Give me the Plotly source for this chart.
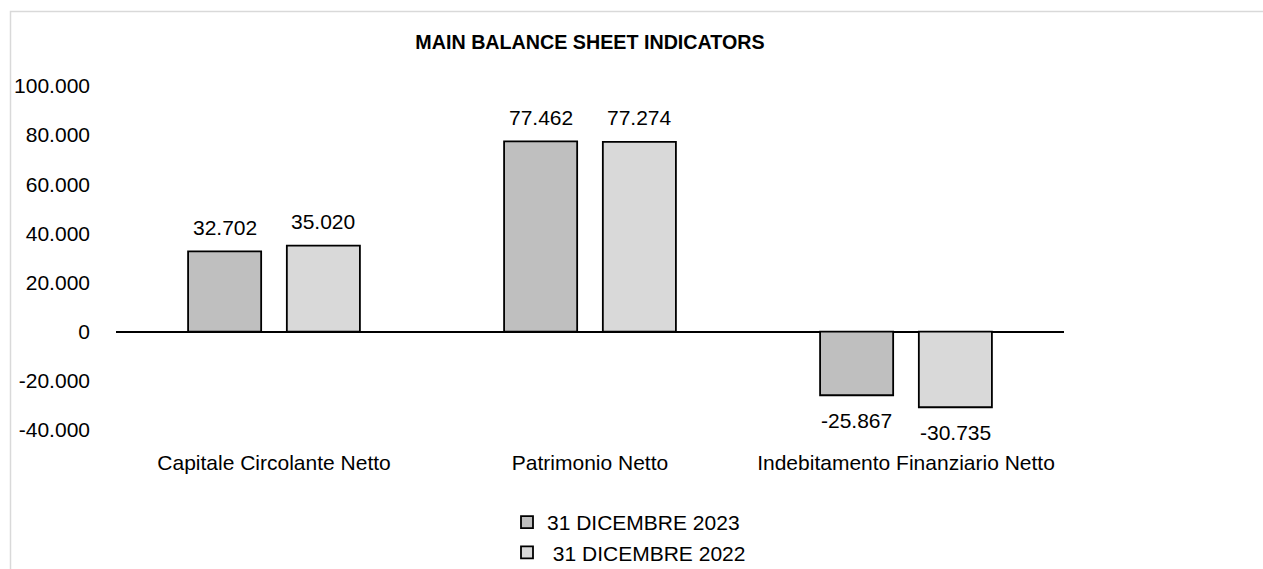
import plotly.graph_objects as go

# Indicator categories and values (thousands of euro)
categories = ["Capitale Circolante Netto", "Patrimonio Netto", "Indebitamento Finanziario Netto"]
series_names = ["31 DICEMBRE 2023", "\u00a031 DICEMBRE 2022"]
values_2023 = [32702, 77462, -25867]
values_2022 = [35020, 77274, -30735]

y_tickvals = [-40000, -20000, 0, 20000, 40000, 60000, 80000, 100000]
y_ticktext = ["-40.000", "-20.000", "0", "20.000", "40.000", "60.000", "80.000", "100.000"]

FONT = "Liberation Sans, Arial, sans-serif"
W, H = 1263, 569
M_L, M_R, M_T, M_B = 116, 199, 86, 139
BARGAP = 0.375
BARGROUPGAP = 0.26

colors = ["#bfbfbf", "#d9d9d9"]
series = [values_2023, values_2022]


def fmt(v):
    s = f"{abs(v):,}".replace(",", ".")
    return ("-" if v < 0 else "") + s


fig = go.Figure()
for name, vals, col in zip(series_names, series, colors):
    fig.add_trace(go.Bar(
        x=categories, y=vals, name=name,
        marker=dict(color=col, line=dict(color="#000000", width=1.8)),
        hoverinfo="x+y",
    ))

# Value labels, centred over each bar of the group
slot = (1 - BARGAP) / len(series)
for k, vals in enumerate(series):
    dx = (k - (len(series) - 1) / 2) * slot
    for i, v in enumerate(vals):
        fig.add_annotation(
            x=i + dx, y=v, xref="x", yref="y",
            text=fmt(v), showarrow=False,
            yanchor="middle", yshift=24 if v >= 0 else -25,
            font=dict(family=FONT, size=21, color="#000000"),
        )

plot_w = W - M_L - M_R
plot_h = H - M_T - M_B
# Light frame around the chart area
fig.add_shape(
    type="rect", xref="paper", yref="paper",
    x0=(10.5 - M_L) / plot_w, x1=1.5,
    y0=-1.0, y1=(H - M_B - 11.5) / plot_h,
    line=dict(color="#d9d9d9", width=1.5), fillcolor="rgba(0,0,0,0)",
    layer="below",
)

fig.update_layout(
    width=W, height=H,
    margin=dict(l=M_L, r=M_R, t=M_T, b=M_B, pad=0, autoexpand=False),
    paper_bgcolor="#ffffff", plot_bgcolor="#ffffff",
    barmode="group", bargap=BARGAP, bargroupgap=BARGROUPGAP,
    font=dict(family=FONT, size=21, color="#000000"),
    title=dict(
        text="<b>MAIN BALANCE SHEET INDICATORS</b>",
        font=dict(family=FONT, size=19.7, color="#000000"),
        x=0.5, xref="paper", xanchor="center",
        y=1 - 42 / H, yref="container", yanchor="middle",
    ),
    showlegend=True,
    legend=dict(
        orientation="v",
        x=507 / W, xref="container", xanchor="left",
        y=1 - 502 / H, yref="container", yanchor="top",
        font=dict(family=FONT, size=21, color="#000000"),
        bgcolor="rgba(0,0,0,0)", traceorder="normal",
        itemwidth=30,
    ),
    xaxis=dict(
        type="category", showgrid=False, showline=False, zeroline=False,
        ticks="", ticklabelstandoff=18,
        tickfont=dict(family=FONT, size=21, color="#000000"),
    ),
    yaxis=dict(
        range=[-40000, 100000], showgrid=False, showline=False,
        zeroline=True, zerolinecolor="#000000", zerolinewidth=1.5,
        tickmode="array", tickvals=y_tickvals, ticktext=y_ticktext,
        ticks="", ticklabelstandoff=25,
        tickfont=dict(family=FONT, size=21, color="#000000"),
    ),
)

fig.write_html("out.html")
